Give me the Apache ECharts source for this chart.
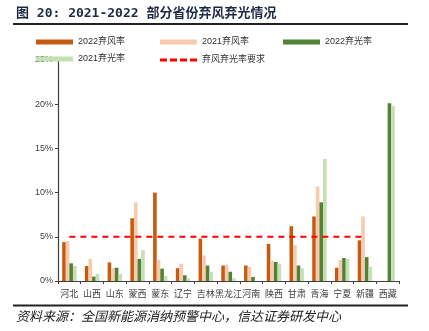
<!DOCTYPE html>
<html>
<head>
<meta charset="utf-8">
<script src="https://cdn.jsdelivr.net/npm/echarts@6/dist/echarts.min.js"></script>
<style>
html,body{margin:0;padding:0;background:#fff;}
#chart{width:429px;height:331px;}
</style>
</head>
<body>
<div id="chart"></div>
<script>
// Provinces shown on the category axis
const provinces = ['河北','山西','山东','蒙西','蒙东','辽宁','吉林','黑龙江','河南','陕西','甘肃','青海','宁夏','新疆','西藏'];

// Curtailment rates (%)
const wind2022  = [4.4, 1.7, 2.1, 7.1, 10.0, 1.45, 4.8, 1.75, 1.75, 4.2, 6.2, 7.3, 1.5, 4.6, 0];
const wind2021  = [4.5, 2.5, 1.45, 8.9, 2.4, 1.95, 2.9, 1.85, 1.6, 2.3, 4.05, 10.7, 2.4, 7.3, 0];
const solar2022 = [2.0, 0.5, 1.5, 2.5, 1.4, 0.65, 1.75, 1.05, 0.45, 2.15, 1.75, 8.9, 2.6, 2.7, 20.1];
const solar2021 = [1.7, 0.8, 0.8, 3.5, 0.55, 0.3, 1.05, 0.3, 0, 1.95, 1.45, 13.8, 2.5, 1.6, 19.8];
// Required curtailment ceiling (%), not applied to 西藏
const requirement = [5, 5, 5, 5, 5, 5, 5, 5, 5, 5, 5, 5, 5, 5, null];

const yTicks = [0, 5, 10, 15, 20, 25];

const seriesNames = ['2022弃风率', '2021弃风率', '2022弃光率', '2021弃光率', '弃风弃光率要求'];
const colors = ['#C55A11', '#F8CBAD', '#548235', '#C5E0B4', '#FF0000'];

const chart = echarts.init(document.getElementById('chart'), null, {renderer: 'canvas'});

const legendText = {fontSize: 9, color: '#333333', fontFamily: 'Arial, "Noto Sans CJK SC", sans-serif'};
function legendAt(name, left, top, extra) {
  return Object.assign({
    data: [name], left: left, top: top, itemWidth: 37, itemHeight: 5, itemGap: 4,
    padding: 0, textStyle: legendText, selectedMode: false, icon: 'rect'
  }, extra || {});
}

// Dashed legend key: four short dashes
const dashIcon = 'path://M0,0h7v3h-7z M10,0h7v3h-7z M20,0h7v3h-7z M30,0h7v3h-7z';

const barBase = {type: 'bar', barWidth: 3.6, barGap: '0%'};

chart.setOption({
  animation: false,
  color: colors,
  grid: {left: 58, right: 30, top: 60, bottom: 50},
  legend: [
    legendAt(seriesNames[0], 36, 37.5),
    legendAt(seriesNames[1], 160, 37.5),
    legendAt(seriesNames[2], 283, 37.5),
    legendAt(seriesNames[3], 36, 54.5),
    legendAt(seriesNames[4], 160, 55.5, {icon: dashIcon, itemHeight: 3, itemStyle: {color: '#FF0000'}})
  ],
  xAxis: {
    type: 'category',
    data: provinces,
    axisLine: {lineStyle: {color: '#404040', width: 1.2}},
    axisTick: {show: true, length: 3, lineStyle: {color: '#404040'}},
    axisLabel: {fontSize: 9, color: '#404040', margin: 8, interval: 0,
      fontFamily: '"Noto Sans CJK SC", sans-serif'}
  },
  yAxis: {
    type: 'value',
    min: yTicks[0], max: yTicks[yTicks.length - 1], interval: 5,
    axisLine: {show: true, lineStyle: {color: '#404040', width: 1.2}},
    axisTick: {show: true, length: 3, lineStyle: {color: '#404040'}},
    splitLine: {show: false},
    axisLabel: {fontSize: 9, color: '#404040', margin: 5, formatter: '{value}%',
      fontFamily: 'Arial, sans-serif'}
  },
  series: [
    Object.assign({name: seriesNames[0], data: wind2022}, barBase),
    Object.assign({name: seriesNames[1], data: wind2021}, barBase),
    Object.assign({name: seriesNames[2], data: solar2022}, barBase),
    Object.assign({name: seriesNames[3], data: solar2021}, barBase),
    {
      name: seriesNames[4], type: 'line', data: requirement,
      symbol: 'none', z: 5,
      lineStyle: {color: '#FF0000', width: 2, type: [6, 5]}
    }
  ],
  graphic: [
    {
      type: 'text', left: 16, top: 7,
      style: {
        text: '图 20: 2021-2022 部分省份弃风弃光情况',
        fill: '#1E2A44',
        font: 'bold 13px "DejaVu Sans Mono", "Noto Sans CJK SC", monospace'
      }
    },
    {
      type: 'rect', shape: {x: 13, y: 23, width: 395, height: 2},
      style: {fill: '#222222'}
    },
    {
      type: 'rect', shape: {x: 13, y: 304.5, width: 395, height: 2},
      style: {fill: '#222222'}
    },
    {
      type: 'text', left: 16, top: 310,
      style: {
        text: '资料来源：全国新能源消纳预警中心，信达证券研发中心',
        fill: '#222222',
        font: 'italic 13px "Noto Sans CJK SC", sans-serif'
      }
    }
  ]
});
</script>
</body>
</html>
